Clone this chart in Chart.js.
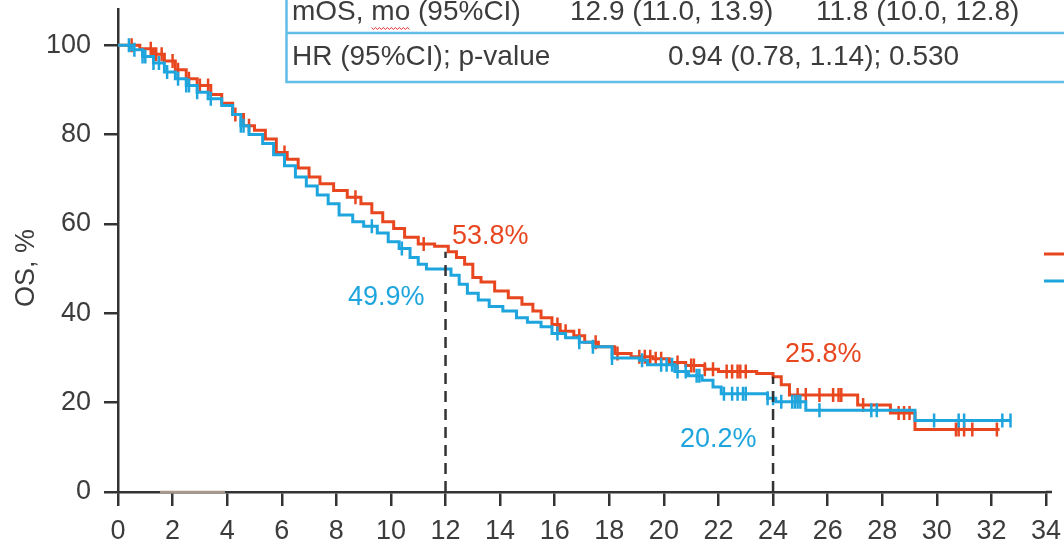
<!DOCTYPE html>
<html>
<head>
<meta charset="utf-8">
<script src="https://cdn.jsdelivr.net/npm/chart.js@4.4.0/dist/chart.umd.min.js"></script>
<style>
  html, body { margin: 0; padding: 0; background: #fff; }
</style>
</head>
<body>
<canvas id="myChart" width="1064" height="548"></canvas>
<script>
// Kaplan-Meier curves (months, OS %)
var redTimes = [0, 0.8, 1.3, 1.7, 2.1, 2.5, 2.9, 3.4, 3.8, 4.2, 4.6, 5.0, 5.4, 5.8, 6.2, 6.6, 7.0, 7.4, 7.9, 8.4, 8.9, 9.3, 9.7, 10.1, 10.5, 11.0, 11.6, 12.1, 12.4, 12.7, 13.0, 13.3, 13.8, 14.3, 14.8, 15.2, 15.5, 15.9, 16.2, 16.7, 17.1, 17.6, 18.2, 18.8, 19.6, 20.2, 20.8, 21.5, 22.0, 23.4, 24.0, 24.3, 24.6, 27.1, 28.3, 29.2, 32.3];
var redSurv  = [100, 99.2, 98, 96.5, 94.5, 92.5, 91, 89, 87, 84.5, 82, 81, 79, 76, 74.5, 72.5, 70.5, 69, 67.5, 66, 64.5, 62.5, 60.5, 59, 57, 55.5, 55, 53.8, 52.5, 51, 48, 47, 45, 43.5, 42, 40.5, 39, 37.5, 36, 35, 33.5, 32.5, 31, 30.3, 29.8, 29, 28.3, 27.5, 27, 26.5, 25.8, 24, 21.7, 19.5, 17.7, 14, 14];

var blueTimes = [0, 0.5, 0.9, 1.3, 1.7, 2.1, 2.5, 2.9, 3.3, 3.8, 4.2, 4.5, 4.8, 5.3, 5.7, 6.1, 6.5, 6.9, 7.3, 7.7, 8.1, 8.6, 9.0, 9.5, 9.9, 10.3, 10.7, 11.0, 11.3, 12.2, 12.5, 12.8, 13.2, 13.6, 14.1, 14.6, 15.0, 15.5, 15.9, 16.4, 16.9, 17.4, 18.1, 19.1, 19.4, 20.4, 20.9, 21.4, 21.8, 22.1, 23.8, 24.1, 25.2, 29.2, 32.7];
var blueSurv  = [100, 99, 97.5, 96, 94, 92.5, 91, 89.5, 88, 86.5, 84.5, 82, 80, 78, 75.5, 73, 70.5, 68.5, 66.5, 64.5, 62, 60.5, 59.5, 58, 56, 54.5, 52.5, 51, 49.9, 48.5, 46.5, 44.5, 43, 41.5, 40.5, 39, 38, 37, 35.5, 34.5, 33.5, 32.5, 30, 29.5, 28.5, 27, 26, 25, 23.5, 22, 21, 20.2, 18.3, 16, 16];

// censor marks
var redCensor = [0.5, 1.2, 1.4, 1.6, 2.0, 2.2, 2.6, 3.0, 3.3, 4.3, 4.8, 6.1, 8.7, 11.2, 16.1, 16.4, 16.9, 17.5, 18.3, 19.1, 19.3, 19.5, 19.7, 19.9, 20.5, 21.0, 21.1, 21.5, 21.8, 22.3, 22.5, 22.7, 22.8, 23.0, 24.9, 25.2, 25.7, 26.2, 26.4, 26.5, 27.3, 28.6, 28.8, 29.0, 30.7, 30.8, 31.0, 31.3, 32.2];
var blueCensor = [0.4, 0.6, 0.9, 1.0, 1.3, 1.5, 1.8, 2.2, 2.5, 2.6, 2.9, 3.4, 4.5, 4.6, 9.3, 10.4, 16.1, 16.9, 17.4, 18.1, 19.2, 19.9, 20.1, 20.3, 20.5, 20.8, 21.2, 21.3, 22.2, 22.5, 22.7, 22.9, 23.0, 23.8, 24.0, 24.3, 24.7, 24.8, 24.9, 25.0, 25.7, 27.6, 27.8, 29.9, 30.8, 31.0, 32.4, 32.7];

// landmark values
var landmarks = [
  { t: 12, red: 53.8, blue: 49.9 },
  { t: 24, red: 25.8, blue: 20.2 }
];

var yTicks = [0, 20, 40, 60, 80, 100];

var RED = '#e8461f';
var BLUE = '#1ea5dd';
var TXT = '#3c3c3c';
var FONT = '"Liberation Sans", Arial, sans-serif';

function toPoints(times, vals) {
  return times.map(function (t, i) { return { x: t, y: vals[i] }; });
}

function survAt(times, vals, t) {
  var v = vals[0];
  for (var i = 0; i < times.length; i++) {
    if (times[i] <= t) v = vals[i];
  }
  return v;
}

function censorPoints(ct, times, vals) {
  return ct.map(function (t) { return { x: t, y: survAt(times, vals, t) }; });
}

var dashSets = landmarks.map(function (l) {
  return {
    data: [{ x: l.t, y: 0 }, { x: l.t, y: l.red }],
    borderColor: '#333',
    borderWidth: 2.5,
    borderDash: [11, 7],
    pointRadius: 0,
    order: 0
  };
});

var extras = {
  id: 'extras',
  afterDraw: function (chart) {
    var ctx = chart.ctx;
    var xs = chart.scales.x, ys = chart.scales.y;
    var a = chart.chartArea;
    ctx.save();

    // x axis runs a little past 34
    ctx.strokeStyle = '#333';
    ctx.lineWidth = 2.5;
    ctx.beginPath();
    ctx.moveTo(a.right, ys.getPixelForValue(0));
    ctx.lineTo(a.right + 6, ys.getPixelForValue(0));
    ctx.stroke();

    // odd tan segment on the x axis
    ctx.strokeStyle = '#a8998a';
    ctx.beginPath();
    ctx.moveTo(160, ys.getPixelForValue(0));
    ctx.lineTo(225, ys.getPixelForValue(0));
    ctx.stroke();

    // table box
    ctx.strokeStyle = '#62bde8';
    ctx.lineWidth = 2.5;
    ctx.strokeRect(286.5, -10, 800, 92);
    ctx.beginPath();
    ctx.moveTo(286.5, 33);
    ctx.lineTo(1070, 33);
    ctx.stroke();

    ctx.font = '28px ' + FONT;
    ctx.fillStyle = TXT;
    ctx.textBaseline = 'middle';
    ctx.textAlign = 'left';
    ctx.fillText('mOS, mo (95%CI)', 292, 12);
    ctx.fillText('12.9 (11.0, 13.9)', 570, 12);
    ctx.fillText('11.8 (10.0, 12.8)', 816, 12);
    ctx.fillText('HR (95%CI); p-value', 292, 57);
    ctx.fillText('0.94 (0.78, 1.14); 0.530', 668, 57);

    // spell-check squiggle under "mo"
    var x0 = 292 + ctx.measureText('mOS, ').width;
    var w = ctx.measureText('mo').width;
    ctx.strokeStyle = '#e03030';
    ctx.lineWidth = 1;
    ctx.beginPath();
    for (var i = 0; i <= w; i += 2) {
      var yy = 28 + ((i / 2) % 2 ? 1.5 : -0.5);
      if (i === 0) ctx.moveTo(x0 + i, yy); else ctx.lineTo(x0 + i, yy);
    }
    ctx.stroke();

    // landmark labels
    ctx.font = '27px ' + FONT;
    ctx.fillStyle = RED;
    ctx.fillText(landmarks[0].red.toFixed(1) + '%', 452, 237);
    ctx.fillText(landmarks[1].red.toFixed(1) + '%', 785, 355);
    ctx.fillStyle = BLUE;
    ctx.fillText(landmarks[0].blue.toFixed(1) + '%', 348, 298);
    ctx.fillText(landmarks[1].blue.toFixed(1) + '%', 680, 440);

    // legend stubs cut off at the right edge
    ctx.lineWidth = 3;
    ctx.strokeStyle = RED;
    ctx.beginPath(); ctx.moveTo(1044, 254); ctx.lineTo(1064, 254); ctx.stroke();
    ctx.strokeStyle = BLUE;
    ctx.beginPath(); ctx.moveTo(1044, 281); ctx.lineTo(1064, 281); ctx.stroke();

    // y axis title
    ctx.fillStyle = TXT;
    ctx.translate(27, 268);
    ctx.rotate(-Math.PI / 2);
    ctx.textAlign = 'center';
    ctx.fillText('OS, %', 0, 0);
    ctx.restore();
  }
};

Chart.defaults.font.family = FONT;
Chart.defaults.font.size = 27;
Chart.defaults.color = TXT;

var ctx = document.getElementById('myChart').getContext('2d');
var myChart = new Chart(ctx, {
  type: 'line',
  data: {
    datasets: [
      {
        data: toPoints(redTimes, redSurv),
        borderColor: RED,
        borderWidth: 3,
        stepped: true,
        pointRadius: 0,
        order: 2
      },
      {
        data: censorPoints(redCensor, redTimes, redSurv),
        showLine: false,
        pointStyle: 'line',
        pointRotation: 90,
        pointRadius: 7,
        pointBorderWidth: 2.5,
        pointBorderColor: RED,
        borderColor: RED,
        order: 2
      },
      {
        data: toPoints(blueTimes, blueSurv),
        borderColor: BLUE,
        borderWidth: 3,
        stepped: true,
        pointRadius: 0,
        order: 1
      },
      {
        data: censorPoints(blueCensor, blueTimes, blueSurv),
        showLine: false,
        pointStyle: 'line',
        pointRotation: 90,
        pointRadius: 7,
        pointBorderWidth: 2.5,
        pointBorderColor: BLUE,
        borderColor: BLUE,
        order: 1
      }
    ].concat(dashSets)
  },
  options: {
    responsive: false,
    animation: false,
    layout: { padding: { top: 9, right: 18, left: 0, bottom: 0 } },
    plugins: {
      legend: { display: false },
      tooltip: { enabled: false }
    },
    scales: {
      x: {
        type: 'linear',
        min: 0,
        max: 34,
        ticks: { stepSize: 2, padding: 9, color: TXT },
        grid: { drawOnChartArea: false, drawTicks: true, tickLength: 14, color: '#333', lineWidth: 2.5 },
        border: { color: '#333', width: 2.5 },
        afterFit: function (s) { s.height = 56; s.paddingLeft = 0; s.paddingRight = 0; }
      },
      y: {
        min: 0,
        max: 108,
        afterBuildTicks: function (s) { s.ticks = yTicks.map(function (v) { return { value: v }; }); },
        ticks: { padding: 13, color: TXT },
        grid: { drawOnChartArea: false, drawTicks: true, tickLength: 14, color: '#333', lineWidth: 2.5 },
        border: { color: '#333', width: 2.5 },
        afterFit: function (s) { s.width = 118; s.paddingTop = 0; s.paddingBottom = 0; }
      }
    }
  },
  plugins: [extras]
});
</script>
</body>
</html>
